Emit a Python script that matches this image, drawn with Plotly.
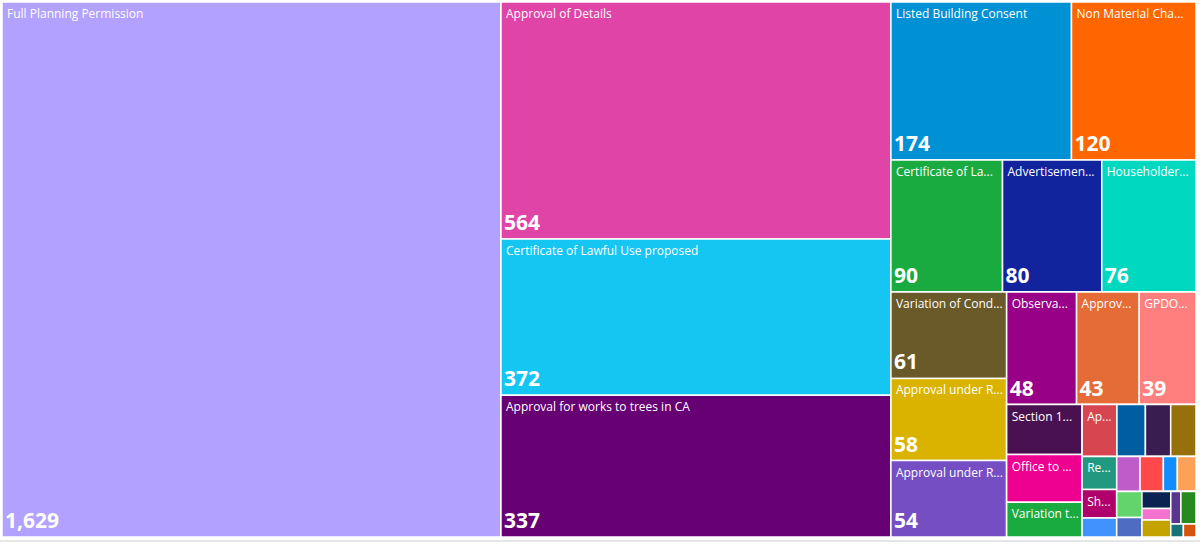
import plotly.graph_objects as go

# ---- data ----
leaf_ids = ["fpp", "aod", "clup", "trees", "lbc", "nmc", "clue", "adv", "hh",
            "voc", "aur1", "aur2", "obs", "appr", "gpdo", "s1", "off", "vart",
            "ap", "t_b1", "t_p1", "t_gd1", "re", "sh", "t_bl2", "t_pp", "t_rd",
            "t_bl", "t_or", "t_gr", "t_bl3", "t_nv", "t_pk", "t_gd", "t_pu",
            "t_gr2", "t_tl", "t_or2"]
leaf_labels = ["Full Planning Permission", "Approval of Details",
               "Certificate of Lawful Use proposed", "Approval for works to trees in CA",
               "Listed Building Consent", "Non Material Cha...", "Certificate of La...",
               "Advertisemen...", "Householder...", "Variation of Cond...",
               "Approval under R...", "Approval under R...", "Observa...", "Approv...",
               "GPDO...", "Section 1...", "Office to ...", "Variation t...", "Ap...",
               "", "", "", "Re...", "Sh...", "", "", "", "", "", "", "", "", "", "",
               "", "", "", ""]
leaf_values = [1629, 564, 372, 337, 174, 120, 90, 80, 76,
               61, 58, 54, 48, 43, 39, 23, 22, 16,
               11, 9, 8, 8, 7, 6, 4, 5, 5,
               3, 4, 4, 3, 3, 2, 3, 2,
               3, 1, 1]
value_labels = ["1,629", "564", "372", "337", "174", "120", "90", "80", "76",
                "61", "58", "54", "48", "43", "39"] + [""] * 23
leaf_colors = ["#B3A1FF", "#E044A7", "#15C6F2", "#660073", "#0091D5", "#FF6600",
               "#1AAB40", "#12239E", "#00D9BF", "#6B5A29", "#D9B300", "#744EC2",
               "#990088", "#E66C37", "#FF7F7F", "#4A1151", "#EE0090", "#1AAB40",
               "#D64550", "#005DA0", "#3A1D50", "#96700A", "#209980", "#B0006B",
               "#4092FF", "#BE5DC9", "#FE4849", "#118DFF", "#FFA058", "#63D36B",
               "#4D6CC2", "#0A2350", "#F472D0", "#C4A200", "#5A3590", "#278A1F",
               "#197278", "#D4530E"]

# ---- tile arrangement (slice/dice grouping, no values) ----
arrangement = ("root", ["fpp",
    ("colB", ["aod", "clup", "trees"]),
    ("colC", [
        ("c1", ["lbc", "nmc"]),
        ("c2", ["clue", "adv", "hh"]),
        ("c3", [
            ("d", ["voc", "aur1", "aur2"]),
            ("e", [
                ("e1", ["obs", "appr", "gpdo"]),
                ("f", [
                    ("f1", ["s1", "off", "vart"]),
                    ("g", [
                        ("g1", ["ap", "t_b1", "t_p1", "t_gd1"]),
                        ("h", [
                            ("h1", ["re", "sh", "t_bl2"]),
                            ("i", [
                                ("i1", ["t_pp", "t_rd", "t_bl", "t_or"]),
                                ("j", [
                                    ("j1", ["t_gr", "t_bl3"]),
                                    ("k", [
                                        ("k2", [
                                            ("k1", ["t_nv", "t_pk", "t_gd"]),
                                            ("l", [
                                                ("l1", ["t_pu", "t_gr2"]),
                                                ("l2", ["t_tl", "t_or2"]),
                                            ]),
                                        ]),
                                    ]),
                                ]),
                            ]),
                        ]),
                    ]),
                ]),
            ]),
        ]),
    ]),
])

leaf_index = {k: i for i, k in enumerate(leaf_ids)}
ids, parents, labels, values, colors, vtexts = [], [], [], [], [], []


def walk(node, parent):
    if isinstance(node, tuple):
        name, kids = node
        ids.append(name); parents.append(parent); labels.append("")
        values.append(0); colors.append("#FFFFFF"); vtexts.append("")
        for k in kids:
            walk(k, name)
    else:
        i = leaf_index[node]
        ids.append(node); parents.append(parent); labels.append(leaf_labels[i])
        values.append(leaf_values[i]); colors.append(leaf_colors[i])
        vtexts.append(value_labels[i])


walk(arrangement, "")

domain = dict(x=[2 / 1200, 1196 / 1200], y=[8 / 545, 543 / 545])
font = "Open Sans, DejaVu Sans, sans-serif"
nopad = dict(t=0, l=0, r=0, b=0)
tiling = dict(packing="slice-dice", pad=0)

fig = go.Figure()
fig.add_trace(go.Treemap(
    ids=ids, labels=ids, parents=parents, values=values,
    text=["\u2009" + t if t else "" for t in labels],
    branchvalues="remainder", sort=False,
    texttemplate="%{text}", textposition="top left",
    textfont=dict(family=font, size=12, color="white"),
    marker=dict(colors=colors, line=dict(color="white", width=1.5), pad=nopad),
    tiling=tiling, pathbar=dict(visible=False), domain=domain,
    hoverinfo="skip",
))
fig.add_trace(go.Treemap(
    ids=ids, labels=ids, parents=parents, values=values, text=vtexts,
    customdata=labels, branchvalues="remainder", sort=False,
    texttemplate="<b>%{text}</b>", textposition="bottom left",
    textfont=dict(family=font, size=21, color="white"),
    marker=dict(colors=["rgba(0,0,0,0)"] * len(ids), line=dict(width=0), pad=nopad),
    tiling=tiling, pathbar=dict(visible=False), domain=domain,
    hovertemplate="%{customdata}: %{value}<extra></extra>",
))
fig.add_shape(type="line", xref="paper", yref="paper", x0=0, x1=1,
              y0=4 / 545, y1=4 / 545, line=dict(color="#E6E6E6", width=2))
fig.update_layout(width=1200, height=545, margin=dict(l=0, r=0, t=0, b=0),
                  paper_bgcolor="white", plot_bgcolor="white", showlegend=False)
fig.write_html("out.html", config={"displayModeBar": False},
               post_script="document.body.style.margin='0';document.body.style.overflow='hidden';")
